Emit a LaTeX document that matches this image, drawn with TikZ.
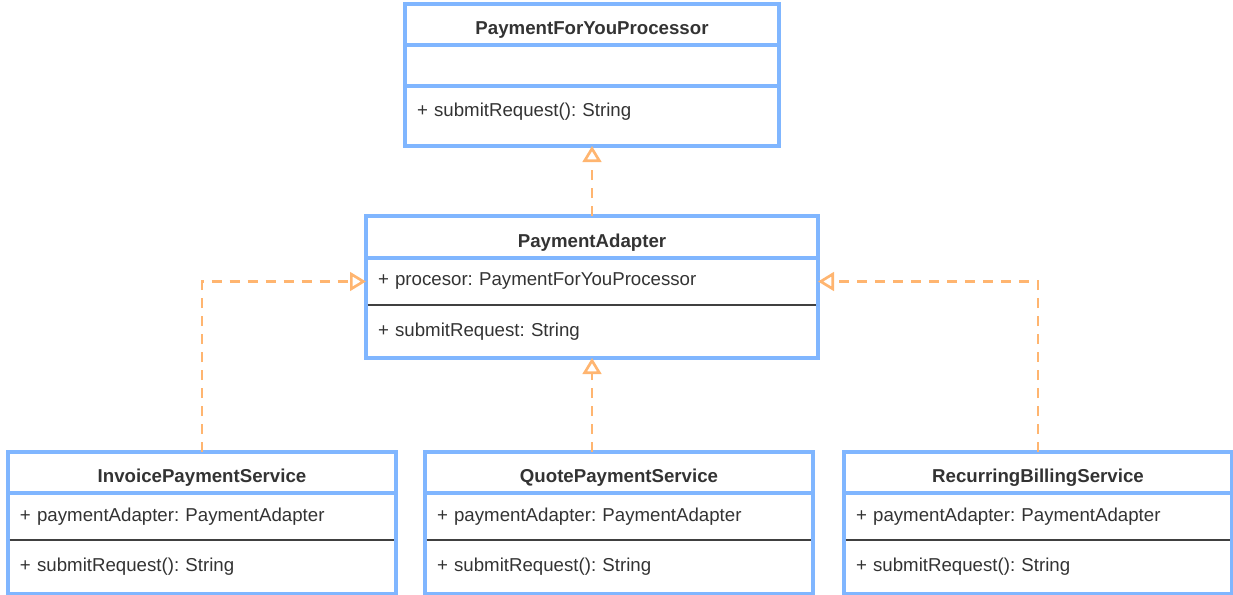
\documentclass[tikz,border=0pt]{standalone}
\usepackage{fontspec}
\setmainfont{Liberation Sans}
\usetikzlibrary{arrows.meta,positioning}
\definecolor{umlblue}{HTML}{80B6FF}
\definecolor{umlorange}{HTML}{FFB570}
\definecolor{umltext}{HTML}{333333}
\frenchspacing

\begin{document}
\begin{tikzpicture}[x=0.75pt,y=-0.75pt,
  classhead/.style={draw=umlblue, line width=2.6pt, outer sep=0pt, inner sep=0pt, anchor=north,
    text=umltext, align=center, text height=15pt, text depth=0pt, font=\fontsize{14}{17}\selectfont\bfseries},
  classpart/.style={draw=umlblue, line width=2.6pt, outer sep=0pt, inner xsep=9pt, inner ysep=0pt,
    text=umltext, align=left, font=\fontsize{14}{17}\selectfont},
  sepline/.style={preaction={draw=white, line width=3pt}, draw=black!75, line width=1.3pt,
    shorten <=1.3pt, shorten >=1.3pt},
  realize/.style={draw=umlorange, line width=2pt, dash pattern=on 7.5pt off 6pt,
    -{Triangle[open, length=12pt, width=14pt]}}]
  \useasboundingbox (0,0) rectangle (1233,594);

  % target class
  \node (pfyTitle) [classhead, minimum width=280.5pt, minimum height=30.75pt] at (592,4) {PaymentForYouProcessor};
  \node (pfyAttr) [classpart, text width=262.5pt, minimum height=30.75pt, below=0pt of pfyTitle] {};
  \node (pfyMeth) [classpart, text width=262.5pt, minimum height=45pt, text depth=10pt, below=0pt of pfyAttr] {+ submitRequest(): String};

  % adapter
  \node (paTitle) [classhead, minimum width=339pt, minimum height=31.5pt] at (592,216) {PaymentAdapter};
  \node (paAttr) [classpart, text width=321pt, minimum height=35.25pt, below=0pt of paTitle] {+ procesor: PaymentForYouProcessor};
  \node (paMeth) [classpart, text width=321pt, minimum height=39.75pt, below=0pt of paAttr] {+ submitRequest: String};

  % clients
  \node (ipsTitle) [classhead, minimum width=291pt, minimum height=30.75pt] at (202,452) {InvoicePaymentService};
  \node (ipsAttr) [classpart, text width=273pt, minimum height=35.25pt, below=0pt of ipsTitle] {+ paymentAdapter: PaymentAdapter};
  \node (ipsMeth) [classpart, text width=273pt, minimum height=40.5pt, below=0pt of ipsAttr] {+ submitRequest(): String};

  \node (qpsTitle) [classhead, minimum width=291pt, minimum height=30.75pt] at (619,452) {QuotePaymentService};
  \node (qpsAttr) [classpart, text width=273pt, minimum height=35.25pt, below=0pt of qpsTitle] {+ paymentAdapter: PaymentAdapter};
  \node (qpsMeth) [classpart, text width=273pt, minimum height=40.5pt, below=0pt of qpsAttr] {+ submitRequest(): String};

  \node (rbsTitle) [classhead, minimum width=291pt, minimum height=30.75pt] at (1038,452) {RecurringBillingService};
  \node (rbsAttr) [classpart, text width=273pt, minimum height=35.25pt, below=0pt of rbsTitle] {+ paymentAdapter: PaymentAdapter};
  \node (rbsMeth) [classpart, text width=273pt, minimum height=40.5pt, below=0pt of rbsAttr] {+ submitRequest(): String};

  % attribute / method separators
  \draw [sepline] (paAttr.south west) -- (paAttr.south east);
  \draw [sepline] (ipsAttr.south west) -- (ipsAttr.south east);
  \draw [sepline] (qpsAttr.south west) -- (qpsAttr.south east);
  \draw [sepline] (rbsAttr.south west) -- (rbsAttr.south east);

  \draw [realize] (paTitle.north) -- (pfyMeth.south);
  \draw [realize] (paMeth.south |- qpsTitle.north) -- (paMeth.south);
  \draw [realize] (ipsTitle.north) |- (paAttr.west);
  \draw [realize] (rbsTitle.north) |- (paAttr.east);
\end{tikzpicture}
\end{document}
